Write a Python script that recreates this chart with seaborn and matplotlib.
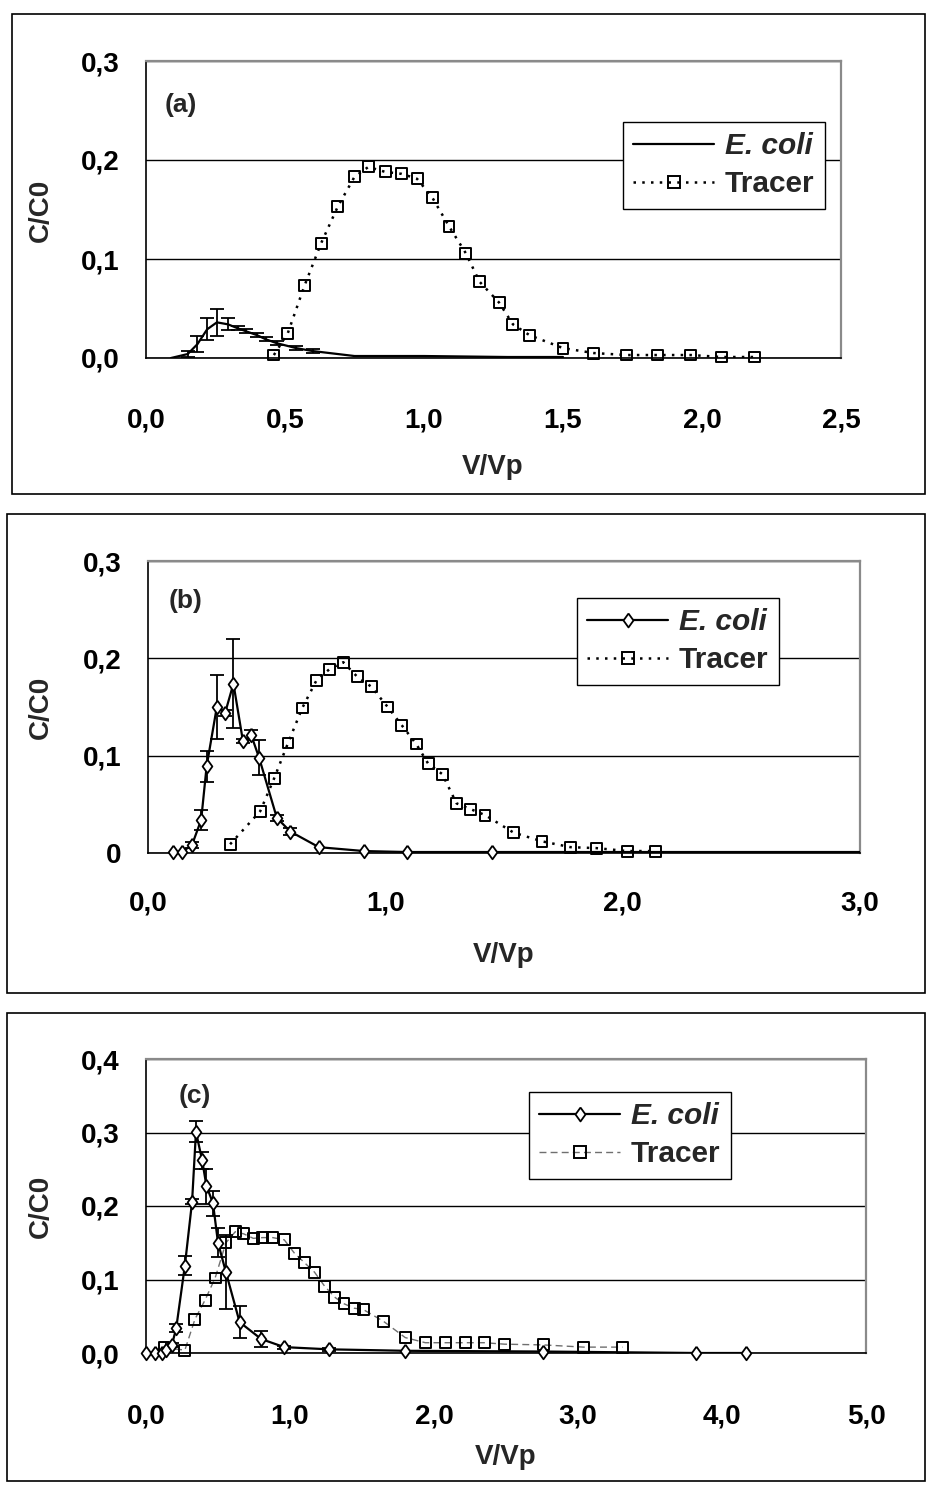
import numpy as np
import matplotlib
matplotlib.use("Agg")
import matplotlib.pyplot as plt
from matplotlib.lines import Line2D
from matplotlib.patches import Rectangle
from matplotlib.ticker import FixedLocator
import seaborn as sns

# ---------------- data ----------------
# (a)
a_ecoli_v = [0.09, 0.15, 0.185, 0.22, 0.255, 0.295, 0.33, 0.36, 0.40, 0.43, 0.47, 0.54, 0.60, 0.75, 1.00, 1.30, 1.50]
a_ecoli_c = [0.000, 0.004, 0.014, 0.029, 0.036, 0.034, 0.030, 0.027, 0.023, 0.019, 0.015, 0.010, 0.007, 0.002, 0.002, 0.001, 0.001]
a_ecoli_err = [0, 0.003, 0.008, 0.011, 0.014, 0.006, 0.002, 0.002, 0.002, 0.002, 0.002, 0.002, 0.002, 0, 0, 0, 0]
a_tracer_v = [0.46, 0.51, 0.57, 0.63, 0.69, 0.75, 0.80, 0.86, 0.92, 0.975, 1.03, 1.09, 1.15, 1.20,
              1.27, 1.32, 1.38, 1.50, 1.61, 1.73, 1.84, 1.96, 2.07, 2.19]
a_tracer_c = [0.003, 0.025, 0.073, 0.116, 0.153, 0.183, 0.193, 0.188, 0.186, 0.181, 0.162, 0.133, 0.106, 0.077,
              0.056, 0.034, 0.023, 0.010, 0.005, 0.003, 0.003, 0.003, 0.001, 0.001]

# (b)
b_ecoli_v = [0.106, 0.142, 0.185, 0.224, 0.247, 0.29, 0.325, 0.36, 0.40, 0.435, 0.468, 0.543, 0.60, 0.72,
             0.91, 1.09, 1.45, 3.0]
b_ecoli_c = [0.001, 0.001, 0.008, 0.034, 0.089, 0.150, 0.144, 0.174, 0.115, 0.121, 0.098, 0.036, 0.022, 0.006,
             0.002, 0.001, 0.001, 0.001]
b_ecoli_err = [0, 0, 0.003, 0.010, 0.016, 0.033, 0.003, 0.046, 0.002, 0.005, 0.018, 0.003, 0.004, 0,
               0, 0, 0, 0]
b_tracer_v = [0.346, 0.473, 0.532, 0.59, 0.65, 0.709, 0.765, 0.823, 0.882, 0.94, 1.01, 1.07, 1.13, 1.18,
              1.24, 1.30, 1.36, 1.42, 1.54, 1.66, 1.78, 1.89, 2.02, 2.14]
b_tracer_c = [0.009, 0.043, 0.077, 0.113, 0.149, 0.177, 0.189, 0.196, 0.181, 0.171, 0.150, 0.131, 0.112, 0.092,
              0.081, 0.051, 0.045, 0.039, 0.021, 0.012, 0.006, 0.005, 0.002, 0.002]

# (c)
c_ecoli_v = [0.0, 0.063, 0.11, 0.14, 0.18, 0.21, 0.27, 0.32, 0.347, 0.39, 0.42, 0.465, 0.50, 0.555, 0.65,
             0.80, 0.96, 1.27, 1.80, 2.76, 3.82, 4.17]
c_ecoli_c = [0.0, 0.0, 0.0, 0.004, 0.011, 0.034, 0.119, 0.206, 0.301, 0.262, 0.227, 0.204, 0.150, 0.110, 0.042,
             0.019, 0.008, 0.005, 0.003, 0.002, 0.0, 0.0]
c_ecoli_err = [0, 0, 0, 0, 0.003, 0.006, 0.013, 0.003, 0.014, 0.011, 0.024, 0.017, 0.02, 0.05, 0.022,
               0.011, 0.002, 0.002, 0, 0, 0, 0]
c_tracer_v = [0.125, 0.27, 0.34, 0.41, 0.48, 0.555, 0.62, 0.68, 0.745, 0.81, 0.88, 0.96, 1.03, 1.10, 1.17,
              1.24, 1.31, 1.375, 1.445, 1.51, 1.65, 1.80, 1.94, 2.08, 2.22, 2.35, 2.49, 2.76, 3.04, 3.31]
c_tracer_c = [0.007, 0.004, 0.046, 0.072, 0.102, 0.150, 0.165, 0.162, 0.156, 0.157, 0.157, 0.154, 0.136, 0.123,
              0.110, 0.091, 0.076, 0.067, 0.061, 0.059, 0.043, 0.021, 0.014, 0.014, 0.014, 0.014, 0.012,
              0.011, 0.008, 0.008]

a_xticks = [0.0, 0.5, 1.0, 1.5, 2.0, 2.5]
a_xlabels = ["0,0", "0,5", "1,0", "1,5", "2,0", "2,5"]
a_yticks = [0.0, 0.1, 0.2, 0.3]
a_ylabels = ["0,0", "0,1", "0,2", "0,3"]
b_xticks = [0.0, 1.0, 2.0, 3.0]
b_xlabels = ["0,0", "1,0", "2,0", "3,0"]
b_yticks = [0.0, 0.1, 0.2, 0.3]
b_ylabels = ["0", "0,1", "0,2", "0,3"]
c_xticks = [0.0, 1.0, 2.0, 3.0, 4.0, 5.0]
c_xlabels = ["0,0", "1,0", "2,0", "3,0", "4,0", "5,0"]
c_yticks = [0.0, 0.1, 0.2, 0.3, 0.4]
c_ylabels = ["0,0", "0,1", "0,2", "0,3", "0,4"]

series_names = ["E. coli", "Tracer"]

# ---------------- style ----------------
sns.set_style("white")
plt.rcParams["font.family"] = ["Liberation Sans", "DejaVu Sans"]
plt.rcParams["font.weight"] = "bold"

W, H, DPI = 927, 1486, 100
fig = plt.figure(figsize=(W / DPI, H / DPI), dpi=DPI)

DIAMOND = [(0, 1), (0.72, 0), (0, -1), (-0.72, 0), (0, 1)]
TICK_FS = 20
LABEL_FS = 20
TAG_FS = 19
LEG_FS = 21.5


def fx(x):
    return x / W


def fy(y):
    return 1 - y / H


def add_frame(x0, y0, x1, y1):
    fig.patches.append(Rectangle((fx(x0), fy(y1)), (x1 - x0) / W, (y1 - y0) / H,
                                 transform=fig.transFigure, fill=False,
                                 edgecolor="black", linewidth=1.2))


def make_axes(left, top, right, bottom):
    return fig.add_axes([fx(left), fy(bottom), (right - left) / W, (bottom - top) / H])


def style_axes(ax, xmax, ymax, xt, xl, yt, yl, xpad, minor=None):
    ax.set_xlim(0, xmax)
    ax.set_ylim(0, ymax)
    ax.set_xticks(xt)
    ax.set_xticklabels(xl)
    ax.set_yticks(yt)
    ax.set_yticklabels(yl)
    ax.tick_params(axis="x", which="major", direction="out", length=8, width=1.2,
                   pad=xpad, labelsize=TICK_FS, colors="black")
    ax.tick_params(axis="y", which="major", direction="out", length=8, width=1.2,
                   pad=11, labelsize=TICK_FS, colors="black")
    if minor is not None:
        ax.xaxis.set_minor_locator(FixedLocator(minor))
        ax.tick_params(axis="x", which="minor", direction="in", length=8, width=1.2,
                       colors="black")
    for lab in ax.get_xticklabels() + ax.get_yticklabels():
        lab.set_fontweight("bold")
    ax.yaxis.grid(True, color="black", linewidth=1.0)
    ax.xaxis.grid(False)
    for side in ("left", "bottom"):
        ax.spines[side].set_color("black")
        ax.spines[side].set_linewidth(1.2)
        ax.spines[side].set_visible(True)
    for side in ("top", "right"):
        ax.spines[side].set_color("#8a8a8a")
        ax.spines[side].set_linewidth(1.6)
        ax.spines[side].set_visible(True)
    ax.set_xlabel("")
    ax.set_ylabel("")


def draw_ecoli(ax, v, c, err, markers, xmax):
    sns.lineplot(x=v, y=c, ax=ax, color="black", linewidth=1.6, estimator=None,
                 sort=False, zorder=3)
    v = np.asarray(v)
    c = np.asarray(c)
    err = np.asarray(err)
    has = err > 0
    ax.errorbar(v[has], c[has], yerr=err[has], fmt="none", ecolor="black",
                elinewidth=1.3, capsize=5, capthick=1.3, zorder=3)
    if markers:
        inside = v < xmax
        sns.scatterplot(x=v[inside], y=c[inside], ax=ax, marker=DIAMOND, s=95,
                        color="black", facecolors="white", edgecolor="black",
                        linewidth=1.3, clip_on=False, zorder=5, legend=False)


def draw_tracer(ax, v, c, style):
    if style == "dot":
        sns.lineplot(x=v, y=c, ax=ax, color="black", linewidth=1.8,
                     linestyle=(0, (1, 2.5)), estimator=None, sort=False, zorder=2)
    else:
        sns.lineplot(x=v, y=c, ax=ax, color="#6f6f6f", linewidth=1.0,
                     linestyle=(0, (5, 3)), estimator=None, sort=False, zorder=2)
    sns.scatterplot(x=v, y=c, ax=ax, marker="s", s=62, color="black",
                    facecolors="none", edgecolor="black", linewidth=1.4,
                    clip_on=False, zorder=4, legend=False)


def add_legend(ax, x0, y0, ecoli_marker, tracer_style):
    if tracer_style == "dot":
        t_kw = dict(color="black", linewidth=1.8, linestyle=(0, (1, 2.5)))
    else:
        t_kw = dict(color="#6f6f6f", linewidth=1.0, linestyle=(0, (5, 3)))
    h_e = Line2D([], [], color="black", linewidth=1.6,
                 marker=DIAMOND if ecoli_marker else None, markersize=10,
                 markerfacecolor="white", markeredgecolor="black", markeredgewidth=1.3)
    h_t = Line2D([], [], marker="s", markersize=8, markerfacecolor="none",
                 markeredgecolor="black", markeredgewidth=1.4, **t_kw)
    leg = ax.legend([h_e, h_t], series_names, loc="upper left",
                    bbox_to_anchor=(fx(x0), fy(y0)), bbox_transform=fig.transFigure,
                    borderaxespad=0, frameon=True, fancybox=False, framealpha=1,
                    edgecolor="black", handlelength=2.7, handletextpad=0.35,
                    labelspacing=0.33, borderpad=0.35,
                    prop=dict(family=["Liberation Sans", "DejaVu Sans"],
                              weight="bold", size=LEG_FS))
    leg.get_frame().set_linewidth(1.0)
    leg.get_texts()[0].set_fontstyle("italic")
    leg.set_zorder(10)
    return leg


def labels(tag, tag_xy, xlab_xy, ylab_xy):
    fig.text(fx(tag_xy[0]), fy(tag_xy[1]), tag, ha="center", va="center",
             fontsize=TAG_FS, fontweight="bold")
    fig.text(fx(xlab_xy[0]), fy(xlab_xy[1]), "V/Vp", ha="center", va="center",
             fontsize=LABEL_FS, fontweight="bold")
    fig.text(fx(ylab_xy[0]), fy(ylab_xy[1]), "C/C0", ha="center", va="center",
             fontsize=LABEL_FS, fontweight="bold", rotation=90)


# ---------------- panel (a) ----------------
add_frame(12, 14, 925, 494)
ax_a = make_axes(146, 61, 841, 358)
style_axes(ax_a, 2.5, 0.3, a_xticks, a_xlabels, a_yticks, a_ylabels, xpad=28)
draw_tracer(ax_a, a_tracer_v, a_tracer_c, "dot")
draw_ecoli(ax_a, a_ecoli_v, a_ecoli_c, a_ecoli_err, markers=False, xmax=2.5)
add_legend(ax_a, 623, 122, ecoli_marker=False, tracer_style="dot")
labels("(a)", (181, 105), (493, 467), (41, 210))

# ---------------- panel (b) ----------------
add_frame(7, 514, 925, 993)
ax_b = make_axes(148, 561, 860, 853)
style_axes(ax_b, 3.0, 0.3, b_xticks, b_xlabels, b_yticks, b_ylabels, xpad=19)
draw_tracer(ax_b, b_tracer_v, b_tracer_c, "dot")
draw_ecoli(ax_b, b_ecoli_v, b_ecoli_c, b_ecoli_err, markers=True, xmax=3.0)
add_legend(ax_b, 577, 598, ecoli_marker=True, tracer_style="dot")
labels("(b)", (186, 601), (504, 955), (41, 707))

# ---------------- panel (c) ----------------
add_frame(7, 1013, 925, 1481)
ax_c = make_axes(146, 1059, 866, 1353)
style_axes(ax_c, 5.0, 0.4, c_xticks, c_xlabels, c_yticks, c_ylabels, xpad=28,
           minor=[0.5, 1.5, 2.5, 3.5, 4.5])
draw_tracer(ax_c, c_tracer_v, c_tracer_c, "dash")
draw_ecoli(ax_c, c_ecoli_v, c_ecoli_c, c_ecoli_err, markers=True, xmax=5.0)
add_legend(ax_c, 529, 1092, ecoli_marker=True, tracer_style="dash")
labels("(c)", (195, 1096), (506, 1457), (41, 1206))

fig.savefig("out.png", dpi=DPI, facecolor="white")
